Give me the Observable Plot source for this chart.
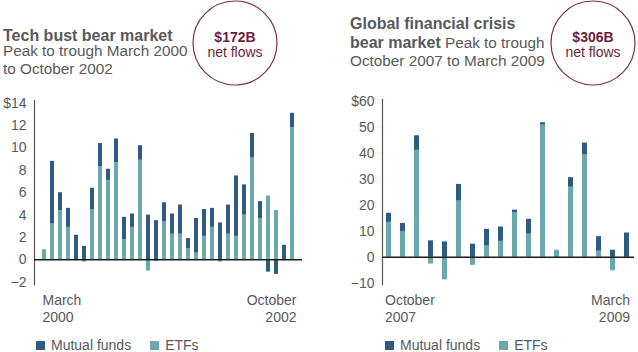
<!DOCTYPE html>
<html><head><meta charset="utf-8">
<script src="https://cdn.jsdelivr.net/npm/d3@7"></script>
<script src="https://cdn.jsdelivr.net/npm/@observablehq/plot@0.6"></script>
<style>
html,body{margin:0;padding:0;background:#fff;}
#root{position:relative;width:638px;height:352px;overflow:hidden;font-family:"Liberation Sans",Arial,sans-serif;color:#58595b;}
.plot{position:absolute;top:90px;}
.legend{position:absolute;top:338px;display:flex;align-items:center;font-size:14px;line-height:14px;color:#58595b;}
.legend .item{display:flex;align-items:center;margin-right:19px;}
.legend .sw{width:9px;height:9px;margin-right:6px;}
#head{position:absolute;left:0;top:0;}
</style></head>
<body><div id="root"><svg id="head" width="638" height="90"></svg></div>
<script>
// ---- data ----
const techMonths = ["Mar 2000","Apr 2000","May 2000","Jun 2000","Jul 2000","Aug 2000","Sep 2000","Oct 2000","Nov 2000","Dec 2000",
  "Jan 2001","Feb 2001","Mar 2001","Apr 2001","May 2001","Jun 2001","Jul 2001","Aug 2001","Sep 2001","Oct 2001","Nov 2001","Dec 2001",
  "Jan 2002","Feb 2002","Mar 2002","Apr 2002","May 2002","Jun 2002","Jul 2002","Aug 2002","Sep 2002","Oct 2002"];
const techETF = [0.9, 3.2, 4.4, 2.9, 0, -0.2, 4.5, 8.3, 7.1, 8.7, 1.8, 2.9, 8.9, -1.0, -0.15, 3.4, 2.3, 2.3, 1.0, 0.6, 2.1, 2.9, -0.2, 2.3, 2.1, 4.0, 9.1, 3.7, 5.7, 4.4, 0, 11.8];
const techMF  = [0, 5.6, 1.6, 1.7, 2.2, 1.2, 1.9, 2.1, 1.0, 2.1, 2.0, 1.2, 1.3, 4.0, 3.5, 1.7, 1.8, 2.6, 0.9, 3.1, 2.4, 1.7, 3.3, 2.6, 5.4, 2.7, 2.2, 1.5, -1.1, -1.3, 1.3, 1.3];
const gfcMonths = ["Oct 2007","Nov 2007","Dec 2007","Jan 2008","Feb 2008","Mar 2008","Apr 2008","May 2008","Jun 2008","Jul 2008",
  "Aug 2008","Sep 2008","Oct 2008","Nov 2008","Dec 2008","Jan 2009","Feb 2009","Mar 2009"];
const gfcETF = [13.4, 9.7, 41.1, -2.6, -8.7, 21.6, -3.1, 4.3, 6.1, 17.0, 8.9, 50.8, 2.7, 26.9, 39.3, 2.3, -5.2, 0];
const gfcMF  = [3.5, 3.3, 5.6, 6.3, 5.9, 6.4, 5.0, 6.4, 5.5, 1.1, 5.7, 0.9, -0.4, 3.7, 4.6, 5.6, 2.7, 9.3];
const seriesNames = ["Mutual funds", "ETFs"];
const techTicks = [-2, 0, 2, 4, 6, 8, 10, 12, 14];
const gfcTicks = [-10, 0, 10, 20, 30, 40, 50, 60];
const techStart = ["March", "2000"], techEnd = ["October", "2002"];
const gfcStart = ["October", "2007"], gfcEnd = ["March", "2009"];

const MF_COLOR = "#2f5b80", ETF_COLOR = "#6ba8ae", TEXT = "#58595b", MAROON = "#6e1f3c";

function rows(months, etf, mf) {
  const out = [];
  months.forEach((m, i) => {
    out.push({month: m, series: "ETFs", value: etf[i]});
    out.push({month: m, series: "Mutual funds", value: mf[i]});
  });
  return out;
}
function fmt(top) {
  return d => d === top ? "$" + d : d < 0 ? "\u2212" + Math.abs(d) : String(d);
}

function chart({months, etf, mf, ticks, yDomain, marginLeft, marginRight, marginTop, pi, po, start, end, dxs, dxe}) {
  return Plot.plot({
    width: 319, height: 245,
    marginLeft, marginRight, marginTop, marginBottom: 50.7,
    style: {fontFamily: "Liberation Sans, Arial, sans-serif", fontSize: "14px", color: TEXT, background: "transparent", overflow: "visible"},
    x: {type: "band", domain: months, paddingInner: pi, paddingOuter: po, axis: null},
    y: {domain: yDomain, axis: null},
    color: {domain: seriesNames, range: [MF_COLOR, ETF_COLOR]},
    marks: [
      Plot.frame({anchor: "left", stroke: "#555", strokeWidth: 1.2}),
      Plot.axisY(ticks, {tickSize: 0, tickPadding: 8, tickFormat: fmt(ticks[ticks.length - 1]), fontSize: 14, fill: TEXT, label: null}),
      Plot.barY(rows(months, etf, mf), Plot.stackY({x: "month", y: "value", fill: "series", order: ["ETFs", "Mutual funds"]})),
      Plot.ruleY([0], {stroke: "#1a1a1a", strokeWidth: 1.5}),
      Plot.text([months[0]], {x: d => d, text: () => start.join("\n"), frameAnchor: "bottom", lineAnchor: "top", textAnchor: "start", dy: 8.5, dx: dxs, lineHeight: 1.2, fontSize: 14, fill: TEXT}),
      Plot.text([months[months.length - 1]], {x: d => d, text: () => end.join("\n"), frameAnchor: "bottom", lineAnchor: "top", textAnchor: "end", dy: 8.5, dx: dxe, lineHeight: 1.2, fontSize: 14, fill: TEXT})
    ]
  });
}

const root = document.getElementById("root");
const left = chart({months: techMonths, etf: techETF, mf: techMF, ticks: techTicks, yDomain: [-2.23, 14.24],
  marginLeft: 34, marginRight: 17, marginTop: 10, pi: 0.52, po: 0.23, start: techStart, end: techEnd, dxs: -2, dxe: 4});
left.classList.add("plot"); left.style.left = "0px";
root.appendChild(left);
const right = chart({months: gfcMonths, etf: gfcETF, mf: gfcMF, ticks: gfcTicks, yDomain: [-10.6, 60.6],
  marginLeft: 63, marginRight: 4, marginTop: 9.1, pi: 0.64, po: 0.28, start: gfcStart, end: gfcEnd, dxs: -4, dxe: 3});
right.classList.add("plot"); right.style.left = "319px";
root.appendChild(right);

// legends
function legend(x) {
  const div = document.createElement("div");
  div.className = "legend"; div.style.left = x + "px";
  const colors = {"Mutual funds": MF_COLOR, "ETFs": ETF_COLOR};
  seriesNames.forEach(n => {
    const it = document.createElement("div"); it.className = "item";
    const sw = document.createElement("div"); sw.className = "sw"; sw.style.background = colors[n];
    const t = document.createElement("span"); t.textContent = n;
    it.appendChild(sw); it.appendChild(t); div.appendChild(it);
  });
  root.appendChild(div);
}
legend(36); legend(385);

// headers
const head = d3.select("#head");
const F = "Liberation Sans, Arial, sans-serif";
function line(x, y, parts, size) {
  const t = head.append("text").attr("x", x).attr("y", y).attr("font-family", F).attr("font-size", size).attr("fill", TEXT);
  parts.forEach(([s, bold, fs]) => t.append("tspan").attr("font-weight", bold ? "bold" : "normal").attr("font-size", fs || size).text(s));
}
line(3, 40.5, [["Tech bust bear market", true, 16]], 16);
line(3, 56, [["Peak to trough March 2000", false, 15.3]], 15.3);
line(3, 74, [["to October 2002", false, 15.3]], 15.3);
line(350, 29, [["Global financial crisis", true, 16]], 16);
line(350, 47.5, [["bear market", true, 16], [" Peak to trough", false, 15.3]], 16);
line(350, 66, [["October 2007 to March 2009", false, 15.3]], 15.3);

function badge(cx, amount) {
  head.append("circle").attr("cx", cx).attr("cy", 43).attr("r", 42).attr("fill", "none").attr("stroke", "#7a3048").attr("stroke-width", 1.2);
  head.append("text").attr("x", cx).attr("y", 41.5).attr("text-anchor", "middle").attr("font-family", F).attr("font-size", 14).attr("font-weight", "bold").attr("fill", MAROON).text(amount);
  head.append("text").attr("x", cx).attr("y", 57).attr("text-anchor", "middle").attr("font-family", F).attr("font-size", 14).attr("fill", MAROON).text("net flows");
}
badge(235, "$172B");
badge(593, "$306B");
</script></body></html>
